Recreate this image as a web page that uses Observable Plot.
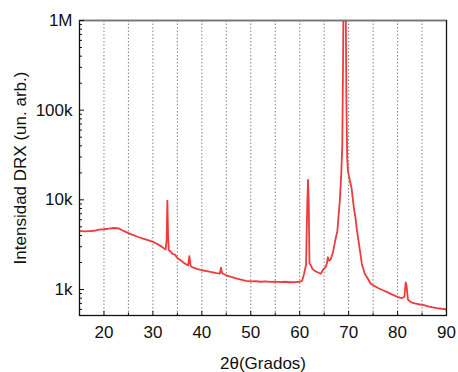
<!DOCTYPE html>
<html><head><meta charset="utf-8">
<script src="https://cdn.jsdelivr.net/npm/d3@7"></script>
<script src="https://cdn.jsdelivr.net/npm/@observablehq/plot@0.6"></script>
<style>
html,body{margin:0;padding:0;background:#fff;}
</style>
</head><body>
<div id="chart"></div>
<script>
const twoTheta = [15,16,17,18,19,20,21,22,23,24,25,26,27,28,29,30,31,32,32.6,32.8,32.95,33.1,33.25,33.6,34,34.5,35,35.5,36,36.5,37.2,37.45,37.7,38,39,40,41,42,43,43.7,43.9,44.15,45,46,47,48,49,50,51,52,53,54,55,56,57,58,59,60,60.5,60.9,61.3,61.55,61.7,61.85,62,62.3,62.6,63.2,64.3,64.9,65.3,65.6,65.75,65.95,66.3,66.8,67.3,67.7,68.2,68.5,68.7,68.85,68.95,69.4,69.55,69.7,69.85,70.25,70.6,71.05,71.4,71.7,72.2,72.7,73.3,74.0,74.5,75.2,76,77,78,78.6,79.3,80.1,80.8,81.4,81.65,81.85,82.1,82.3,82.8,83.5,84.3,85.4,86.2,87,88,89,89.8,90];
const intensity = [4500,4450,4480,4520,4650,4700,4780,4850,4800,4500,4250,4050,3850,3700,3550,3400,3200,2950,2800,3500,9800,4000,2750,2650,2500,2450,2250,2150,2050,1950,1850,2350,1850,1780,1700,1640,1600,1560,1520,1500,1750,1520,1440,1380,1330,1290,1250,1230,1240,1220,1230,1215,1225,1210,1220,1205,1210,1220,1250,1500,1900,9000,16700,9000,1950,1850,1700,1600,1500,1700,1770,2000,2290,2100,2150,2600,3600,4500,9800,20000,40000,300000,1500000,1500000,120000,30000,21000,16400,13500,8300,6300,4540,3000,1930,1500,1300,1160,1100,1040,980,930,895,860,820,800,830,1200,1100,780,755,720,700,685,670,650,635,620,610,605,583];
const majorX = [20,30,40,50,60,70,80,90];
const minorX = [25,35,45,55,65,75,85];
const gridXTicks = [20,25,30,35,40,45,50,55,60,65,70,75,80,85];
const majorY = [1e3,1e4,1e5,1e6];
const majorYLabels = ["1k","10k","100k","1M"];
const minorY = [600,700,800,900,2000,3000,4000,5000,6000,7000,8000,9000,20000,30000,40000,50000,60000,70000,80000,90000,200000,300000,400000,500000,600000,700000,800000,900000];
const xTitle = "2θ(Grados)";
const yTitle = "Intensidad DRX (un. arb.)";

const data = twoTheta.map((x,i)=>({x, y: intensity[i]}));

const chart = Plot.plot({
  width: 458, height: 372,
  marginLeft: 79, marginTop: 20, marginRight: 12, marginBottom: 57,
  style: {fontFamily: "'Liberation Sans', Arial, sans-serif", fontSize: "17px", color: "#111", background: "#fff"},
  x: {domain: [15, 90]},
  y: {type: "log", domain: [513, 1e6]},
  marks: [
    Plot.gridX(gridXTicks, {stroke: "#777", strokeOpacity: 0.9, strokeDasharray: "1.5,2"}),
    Plot.line(data, {x: "x", y: "y", stroke: "#ee3b3b", strokeWidth: 1.8, clip: true}),
    Plot.frame({stroke: "#111", strokeWidth: 1.3}),
    Plot.ruleY([1e6], {stroke: "#777", strokeWidth: 1.5}),
    Plot.axisX(majorX, {tickSize: -4, tickPadding: 14, fontSize: 17, label: null, stroke: "#111"}),
    Plot.axisX(minorX, {tickSize: -2.5, tickFormat: () => "", label: null, stroke: "#111"}),
    Plot.axisY(majorY, {tickSize: -5, tickPadding: 12, fontSize: 17, tickFormat: (d) => majorYLabels[majorY.indexOf(d)], label: null, stroke: "#111"}),
    Plot.axisY(minorY, {tickSize: -3, tickFormat: () => "", label: null, stroke: "#111"}),
    Plot.text([xTitle], {frameAnchor: "bottom", dy: 53, lineAnchor: "bottom", textAnchor: "middle", fontSize: 17, fill: "#111"}),
    Plot.text([yTitle], {frameAnchor: "left", dx: -66, rotate: -90, lineAnchor: "top", textAnchor: "middle", fontSize: 17, fill: "#111"})
  ]
});
document.getElementById("chart").appendChild(chart);
</script>
</body></html>
